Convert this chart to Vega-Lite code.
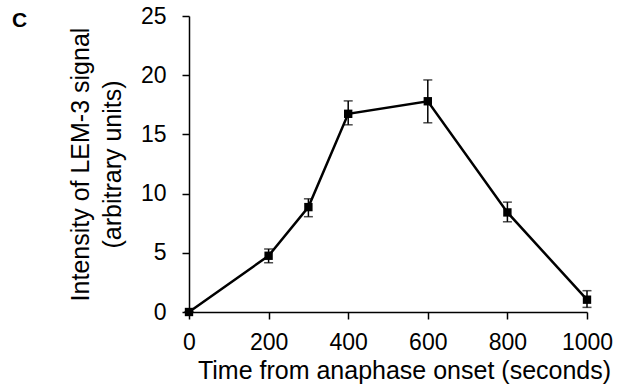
{
  "$schema": "https://vega.github.io/schema/vega-lite/v6.json",
  "autosize": {"type": "none"},
  "width": 398,
  "height": 296,
  "padding": {"left": 189, "top": 16, "right": 30, "bottom": 76},
  "background": "white",
  "title": {"text": "C", "anchor": "start", "frame": "group", "orient": "top", "baseline": "alphabetic", "offset": -43, "dx": -177, "fontSize": 21, "font": "Liberation Sans", "fontWeight": "bold", "color": "black"},
  "config": {
    "view": {"stroke": null},
    "axis": {"grid": false, "domainColor": "black", "tickColor": "black", "domainWidth": 1.5, "tickWidth": 1.5, "tickSize": 7, "labelFont": "Liberation Sans", "titleFont": "Liberation Sans", "labelFontSize": 23, "titleFontSize": 25, "labelColor": "black", "titleColor": "black", "titleFontWeight": "normal"}
  },
  "data": {"values": [
    {"t": 0, "v": 0, "lo": 0, "hi": 0},
    {"t": 200, "v": 4.75, "lo": 4.16, "hi": 5.32},
    {"t": 300, "v": 8.86, "lo": 8.05, "hi": 9.56},
    {"t": 400, "v": 16.74, "lo": 15.81, "hi": 17.83},
    {"t": 600, "v": 17.8, "lo": 15.98, "hi": 19.6},
    {"t": 800, "v": 8.41, "lo": 7.62, "hi": 9.28},
    {"t": 1000, "v": 1.04, "lo": 0.39, "hi": 1.8}
  ]},
  "encoding": {
    "x": {"field": "t", "type": "quantitative", "scale": {"domain": [0, 1000], "nice": false},
      "axis": {"values": [0, 200, 400, 600, 800, 1000], "format": "d", "labelPadding": 12, "title": "Time from anaphase onset (seconds)", "titlePadding": 4, "titleX": 215, "labelFlush": false}},
    "y": {"field": "v", "type": "quantitative", "scale": {"domain": [0, 25], "nice": false},
      "title": ["Intensity of LEM-3 signal", "(arbitrary units)"],
      "axis": {"values": [0, 5, 10, 15, 20, 25], "labelPadding": 16, "title": ["Intensity of LEM-3 signal", "(arbitrary units)"], "titleLineHeight": 32, "titlePadding": 15}}
  },
  "layer": [
    {"mark": {"type": "line", "color": "black", "strokeWidth": 2.5}},
    {"mark": {"type": "errorbar", "ticks": {"size": 9, "thickness": 1.5, "color": "black"}, "rule": {"strokeWidth": 1.5, "color": "black"}},
     "encoding": {"y": {"field": "lo", "type": "quantitative", "title": ["Intensity of LEM-3 signal", "(arbitrary units)"], "axis": {"values": [0, 5, 10, 15, 20, 25], "labelPadding": 16, "title": ["Intensity of LEM-3 signal", "(arbitrary units)"], "titleLineHeight": 32, "titlePadding": 15}}, "y2": {"field": "hi"}}},
    {"mark": {"type": "point", "shape": "square", "filled": true, "color": "black", "size": 70, "opacity": 1}}
  ]
}
